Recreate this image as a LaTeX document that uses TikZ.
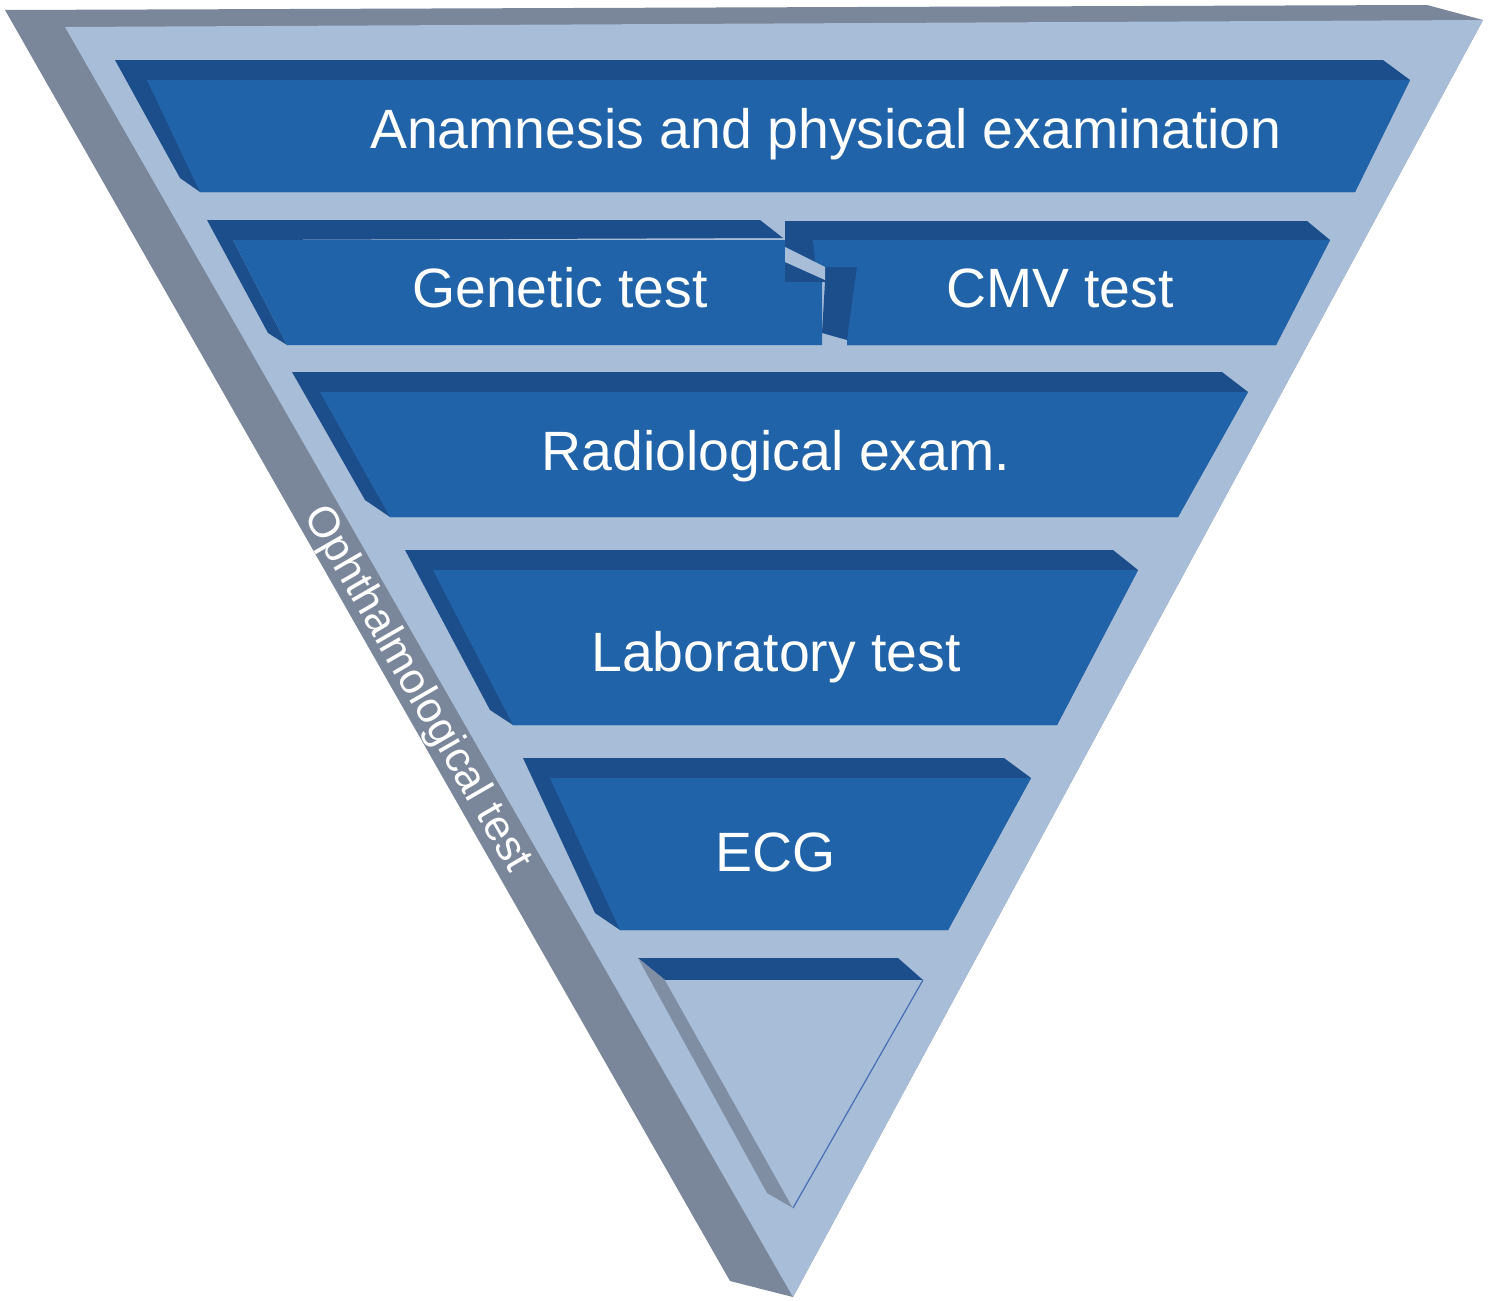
\documentclass[tikz,border=0pt]{standalone}
\usepackage{fontspec}
\setmainfont{Liberation Sans}

\begin{document}
\begin{tikzpicture}[x=0.5pt,y=0.5pt,yscale=-1,xscale=1,
  sideface/.style={fill={rgb, 255:red, 122; green, 134; blue, 153 }, draw=none},
  frontface/.style={fill={rgb, 255:red, 167; green, 189; blue, 216 }, draw=none},
  bardark/.style={fill={rgb, 255:red, 28; green, 78; blue, 140 }, draw=none},
  barfront/.style={fill={rgb, 255:red, 33; green, 99; blue, 168 }, draw=none},
  tipbevel/.style={fill={rgb, 255:red, 128; green, 142; blue, 164 }, draw=none},
  barlabel/.style={anchor=base, inner sep=0.75pt, text=white, font=\fontsize{27.7}{33}\selectfont},
  sidelabel/.style={anchor=base, inner sep=0.75pt, text=white, rotate=-60, font=\fontsize{21.5}{26}\selectfont}]
\useasboundingbox (0,0) rectangle (1494,1301);

%Shape: Polygon (side of the pyramid)
\draw [sideface] (5,10) -- (1427,5) -- (1483,20) -- (793,1297) -- (730,1281) -- cycle ;
%Shape: Polygon (front of the pyramid)
\draw [frontface] (65,27) -- (1483,20) -- (793,1297) -- cycle ;

%Shape: Polygon (level 1)
\draw [bardark] (115,60) -- (1383,60) -- (1410,80) -- (1355,192) -- (200,192) -- (180,178) -- cycle ;
\draw [barfront] (147,80) -- (1410,80) -- (1355,192) -- (200,192) -- cycle ;

%Shape: Polygon (level 2, left)
\draw [bardark] (207,220) -- (760,220) -- (783,238) -- (233,240) -- (287,345) -- (268,333) -- cycle ;
%Shape: Polygon (level 2, right)
\draw [bardark] (785,221) -- (1307,221) -- (1330,240) -- (1276,345) -- (847,345) -- (847,340) -- (822,333) -- (825,282) -- (785,282) -- cycle ;
\draw [barfront] (813,240) -- (1330,240) -- (1276,345) -- (847,345) -- (847,340) -- (857,267) -- (825,267) -- (815,262) -- cycle ;
\draw [barfront] (233,240) -- (785,240) -- (785,282) -- (822,282) -- (822,345) -- (287,345) -- cycle ;
\draw [frontface] (785,247) -- (825,267) -- (825,280) -- (785,262) -- cycle ;

%Shape: Polygon (level 3)
\draw [bardark] (292,372) -- (1222,372) -- (1248,392) -- (1178,517) -- (390,517) -- (365,500) -- cycle ;
\draw [barfront] (320,392) -- (1248,392) -- (1178,517) -- (390,517) -- cycle ;

%Shape: Polygon (level 4)
\draw [bardark] (405,550) -- (1113,550) -- (1138,570) -- (1057,725) -- (513,725) -- (490,710) -- cycle ;
\draw [barfront] (433,570) -- (1138,570) -- (1057,725) -- (513,725) -- cycle ;

%Shape: Polygon (level 5)
\draw [bardark] (523,758) -- (1004,758) -- (1031,778) -- (948,930) -- (620,930) -- (595,913) -- cycle ;
\draw [barfront] (550,778) -- (1031,778) -- (948,930) -- (620,930) -- cycle ;

%Shape: Polygon (tip)
\draw [bardark] (638,958) -- (898,958) -- (923,980) -- (665,980) -- cycle ;
\draw [tipbevel] (638,958) -- (665,980) -- (793,1208) -- (767,1193) -- cycle ;
\draw [frontface] (665,980) -- (923,980) -- (793,1208) -- cycle ;
\draw [color={rgb, 255:red, 70; green, 110; blue, 180 }, line width=0.6] (923,980) -- (793,1208) ;

% Text Node
\draw (826,148) node (anam) [barlabel] {Anamnesis and physical examination};
% Text Node
\draw (560,307) node (genetic) [barlabel] {Genetic test};
% Text Node
\draw (1060,307) node (cmv) [barlabel] {CMV test};
% Text Node
\draw (776,470) node (radio) [barlabel] {Radiological exam.};
% Text Node
\draw (776,671) node (lab) [barlabel] {Laboratory test};
% Text Node
\draw (776,871) node (ecg) [barlabel] {ECG};
% Text Node
\draw (407,695) node (ophth) [sidelabel] {Ophthalmological test};

\end{tikzpicture}
\end{document}
